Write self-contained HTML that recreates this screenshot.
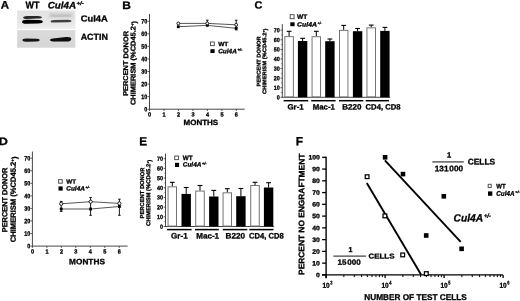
<!DOCTYPE html>
<html><head><meta charset="utf-8"><style>
html,body{margin:0;padding:0;background:#fff;width:520px;height:301px;overflow:hidden}
svg{display:block;font-family:"Liberation Sans", sans-serif;filter:grayscale(1) blur(0.3px)}
text{stroke:#000;stroke-width:0.3px;text-rendering:geometricPrecision}
</style></head><body>
<svg width="520" height="301" viewBox="0 0 520 301">
<rect width="520" height="301" fill="#fff"/>
<text x="0" y="0" font-size="10.84" font-weight="bold" fill="#000" transform="translate(0.77 8.50) rotate(0.05) scale(1.057 1)">A</text>
<text x="25.50" y="8.30" font-size="9.47" font-weight="bold" textLength="13.90" lengthAdjust="spacingAndGlyphs" fill="#000" transform="rotate(0.05 25.50 8.30)">WT</text>
<text x="47.70" y="8.40" font-size="9.60" font-weight="bold" font-style="italic" textLength="28.30" lengthAdjust="spacingAndGlyphs" fill="#000" transform="rotate(0.05 47.70 8.40)">Cul4A</text>
<text x="76.50" y="4.90" font-size="5.33" font-weight="bold" font-style="italic" textLength="7.30" lengthAdjust="spacingAndGlyphs" fill="#000" transform="rotate(0.05 76.50 4.90)">+/-</text>
<defs><filter id="b1" x="-30%" y="-100%" width="160%" height="300%"><feGaussianBlur stdDeviation="0.75"/></filter><filter id="b2" x="-30%" y="-100%" width="160%" height="300%"><feGaussianBlur stdDeviation="1.1"/></filter><linearGradient id="gt" x1="0" y1="0" x2="0" y2="1"><stop offset="0" stop-color="#e3e3e3"/><stop offset="0.6" stop-color="#e6e6e6"/><stop offset="1" stop-color="#eeeeee"/></linearGradient><linearGradient id="gb" x1="0" y1="0" x2="0" y2="1"><stop offset="0" stop-color="#dadada"/><stop offset="1" stop-color="#d6d6d6"/></linearGradient></defs>
<rect x="17.10" y="10.50" width="58.30" height="18.40" fill="url(#gt)" stroke="none" stroke-width="0"/>
<rect x="17.10" y="30.10" width="58.30" height="17.60" fill="url(#gb)" stroke="none" stroke-width="0"/>
<g filter="url(#b2)"><rect x="49" y="13" width="24" height="4.5" fill="#cdcdcd"/></g>
<g filter="url(#b1)">
<path d="M23.2 17.5 Q23.2 15.9 27 15.9 L38 16.1 Q41.8 16.4 41.8 17.4 Q41.8 18.5 38 18.6 L27 19.0 Q23.2 19.1 23.2 17.5Z" fill="#2a2a2a"/>
<path d="M22.0 21.9 Q22.0 19.8 27 19.7 L39 19.9 Q42.8 20.1 42.8 21.7 Q42.8 23.3 38 23.4 L27 23.7 Q22.0 23.9 22.0 21.9Z" fill="#060606"/>
<path d="M50.6 15.8 Q50.6 14.7 54 14.7 L68 14.6 Q71.2 14.8 71.2 15.7 Q71.2 16.8 68 16.8 L54 16.9 Q50.6 16.9 50.6 15.8Z" fill="#c2c2c2"/>
<path d="M50.6 21.4 Q50.6 20.1 54 20.0 L68 19.8 Q71.5 20.0 71.5 21.1 Q71.5 22.3 68 22.3 L54 22.6 Q50.6 22.7 50.6 21.4Z" fill="#404040"/>
<path d="M22.5 40.1 Q22.5 38.5 26 38.5 L37 38.7 Q39.8 38.9 39.8 40.1 Q39.8 41.5 37 41.6 L26 41.8 Q22.5 41.8 22.5 40.1Z" fill="#121212"/>
<path d="M50.0 40.0 Q50.0 38.7 53 38.5 L66 37.0 Q71.3 36.6 71.3 39.0 Q71.3 41.5 66 41.6 L53 41.5 Q50.0 41.4 50.0 40.0Z" fill="#0a0a0a"/>
</g>
<text x="80.70" y="21.50" font-size="8.78" font-weight="bold" textLength="27.00" lengthAdjust="spacingAndGlyphs" fill="#000" transform="rotate(0.05 80.70 21.50)">Cul4A</text>
<text x="80.70" y="39.80" font-size="8.64" font-weight="bold" textLength="27.20" lengthAdjust="spacingAndGlyphs" fill="#000" transform="rotate(0.05 80.70 39.80)">ACTIN</text>
<text x="0" y="0" font-size="10.84" font-weight="bold" fill="#000" transform="translate(122.36 8.90) rotate(0.05) scale(1.103 1)">B</text>
<text x="128.10" y="95.80" font-size="7.00" font-weight="bold" textLength="64.80" lengthAdjust="spacingAndGlyphs" transform="rotate(-89.95 128.10 95.80)">PERCENT DONOR</text>
<text x="135.40" y="105.00" font-size="7.00" font-weight="bold" textLength="84.00" lengthAdjust="spacingAndGlyphs" transform="rotate(-89.95 135.40 105.00)">CHIMERISM (%CD45.2<tspan font-size="0.6em" dy="-0.35em">+</tspan><tspan dy="0.35em">)</tspan></text>
<line x1="149.50" y1="14.00" x2="149.50" y2="109.20" stroke="#333" stroke-width="0.9"/>
<line x1="149.10" y1="109.20" x2="244.70" y2="109.20" stroke="#333" stroke-width="0.9"/>
<line x1="147.50" y1="109.20" x2="149.50" y2="109.20" stroke="#333" stroke-width="0.8"/>
<text x="147.30" y="111.49" font-size="6.40" font-weight="bold" text-anchor="end" textLength="3.00" lengthAdjust="spacingAndGlyphs" transform="rotate(0.05 147.30 111.49)">0</text>
<line x1="147.50" y1="96.64" x2="149.50" y2="96.64" stroke="#333" stroke-width="0.8"/>
<text x="147.30" y="98.93" font-size="6.40" font-weight="bold" text-anchor="end" textLength="6.00" lengthAdjust="spacingAndGlyphs" transform="rotate(0.05 147.30 98.93)">10</text>
<line x1="147.50" y1="84.08" x2="149.50" y2="84.08" stroke="#333" stroke-width="0.8"/>
<text x="147.30" y="86.37" font-size="6.40" font-weight="bold" text-anchor="end" textLength="6.00" lengthAdjust="spacingAndGlyphs" transform="rotate(0.05 147.30 86.37)">20</text>
<line x1="147.50" y1="71.52" x2="149.50" y2="71.52" stroke="#333" stroke-width="0.8"/>
<text x="147.30" y="73.81" font-size="6.40" font-weight="bold" text-anchor="end" textLength="6.00" lengthAdjust="spacingAndGlyphs" transform="rotate(0.05 147.30 73.81)">30</text>
<line x1="147.50" y1="58.96" x2="149.50" y2="58.96" stroke="#333" stroke-width="0.8"/>
<text x="147.30" y="61.25" font-size="6.40" font-weight="bold" text-anchor="end" textLength="6.00" lengthAdjust="spacingAndGlyphs" transform="rotate(0.05 147.30 61.25)">40</text>
<line x1="147.50" y1="46.40" x2="149.50" y2="46.40" stroke="#333" stroke-width="0.8"/>
<text x="147.30" y="48.69" font-size="6.40" font-weight="bold" text-anchor="end" textLength="6.00" lengthAdjust="spacingAndGlyphs" transform="rotate(0.05 147.30 48.69)">50</text>
<line x1="147.50" y1="33.84" x2="149.50" y2="33.84" stroke="#333" stroke-width="0.8"/>
<text x="147.30" y="36.13" font-size="6.40" font-weight="bold" text-anchor="end" textLength="6.00" lengthAdjust="spacingAndGlyphs" transform="rotate(0.05 147.30 36.13)">60</text>
<line x1="147.50" y1="21.28" x2="149.50" y2="21.28" stroke="#333" stroke-width="0.8"/>
<text x="147.30" y="23.57" font-size="6.40" font-weight="bold" text-anchor="end" textLength="6.00" lengthAdjust="spacingAndGlyphs" transform="rotate(0.05 147.30 23.57)">70</text>
<line x1="149.50" y1="109.20" x2="149.50" y2="111.00" stroke="#333" stroke-width="0.8"/>
<text x="149.60" y="116.50" font-size="6.00" font-weight="bold" text-anchor="middle" textLength="3.10" lengthAdjust="spacingAndGlyphs" transform="rotate(0.05 149.60 116.50)">0</text>
<line x1="163.97" y1="109.20" x2="163.97" y2="111.00" stroke="#333" stroke-width="0.8"/>
<text x="164.07" y="116.50" font-size="6.00" font-weight="bold" text-anchor="middle" textLength="3.10" lengthAdjust="spacingAndGlyphs" transform="rotate(0.05 164.07 116.50)">1</text>
<line x1="178.44" y1="109.20" x2="178.44" y2="111.00" stroke="#333" stroke-width="0.8"/>
<text x="178.54" y="116.50" font-size="6.00" font-weight="bold" text-anchor="middle" textLength="3.10" lengthAdjust="spacingAndGlyphs" transform="rotate(0.05 178.54 116.50)">2</text>
<line x1="192.91" y1="109.20" x2="192.91" y2="111.00" stroke="#333" stroke-width="0.8"/>
<text x="193.01" y="116.50" font-size="6.00" font-weight="bold" text-anchor="middle" textLength="3.10" lengthAdjust="spacingAndGlyphs" transform="rotate(0.05 193.01 116.50)">3</text>
<line x1="207.38" y1="109.20" x2="207.38" y2="111.00" stroke="#333" stroke-width="0.8"/>
<text x="207.48" y="116.50" font-size="6.00" font-weight="bold" text-anchor="middle" textLength="3.10" lengthAdjust="spacingAndGlyphs" transform="rotate(0.05 207.48 116.50)">4</text>
<line x1="221.85" y1="109.20" x2="221.85" y2="111.00" stroke="#333" stroke-width="0.8"/>
<text x="221.95" y="116.50" font-size="6.00" font-weight="bold" text-anchor="middle" textLength="3.10" lengthAdjust="spacingAndGlyphs" transform="rotate(0.05 221.95 116.50)">5</text>
<line x1="236.32" y1="109.20" x2="236.32" y2="111.00" stroke="#333" stroke-width="0.8"/>
<text x="236.42" y="116.50" font-size="6.00" font-weight="bold" text-anchor="middle" textLength="3.10" lengthAdjust="spacingAndGlyphs" transform="rotate(0.05 236.42 116.50)">6</text>
<text x="183.50" y="124.90" font-size="7.54" font-weight="bold" textLength="34.70" lengthAdjust="spacingAndGlyphs" fill="#000" transform="rotate(0.05 183.50 124.90)">MONTHS</text>
<line x1="207.30" y1="20.20" x2="207.30" y2="23.40" stroke="#000" stroke-width="0.9"/>
<line x1="206.00" y1="20.20" x2="208.60" y2="20.20" stroke="#000" stroke-width="0.9"/>
<line x1="236.20" y1="20.20" x2="236.20" y2="29.90" stroke="#000" stroke-width="0.9"/>
<line x1="234.90" y1="20.20" x2="237.50" y2="20.20" stroke="#000" stroke-width="0.9"/>
<line x1="234.90" y1="29.90" x2="237.50" y2="29.90" stroke="#000" stroke-width="0.9"/>
<polyline points="178.3,23.4 207.3,23.4 236.2,24.8" fill="none" stroke="#444" stroke-width="0.9"/>
<polyline points="178.3,26.7 207.3,25.4 236.2,28.3" fill="none" stroke="#444" stroke-width="0.9"/>
<rect x="176.90" y="25.30" width="2.80" height="2.80" fill="#000" stroke="none" stroke-width="0"/>
<rect x="205.90" y="24.00" width="2.80" height="2.80" fill="#000" stroke="none" stroke-width="0"/>
<rect x="234.80" y="26.90" width="2.80" height="2.80" fill="#000" stroke="none" stroke-width="0"/>
<circle cx="178.3" cy="23.4" r="1.45" fill="#fff" stroke="#000" stroke-width="0.85"/>
<circle cx="207.3" cy="23.4" r="1.45" fill="#fff" stroke="#000" stroke-width="0.85"/>
<circle cx="236.2" cy="24.8" r="1.45" fill="#fff" stroke="#000" stroke-width="0.85"/>
<rect x="210.50" y="42.00" width="3.80" height="3.60" fill="#fff" stroke="#555" stroke-width="1.0"/>
<rect x="210.40" y="49.20" width="4.20" height="3.80" fill="#000" stroke="none" stroke-width="0"/>
<text x="218.20" y="46.10" font-size="5.90" font-weight="bold" textLength="10.20" lengthAdjust="spacingAndGlyphs" fill="#000" transform="rotate(0.05 218.20 46.10)">WT</text>
<text x="218.20" y="53.30" font-size="6.31" font-weight="bold" font-style="italic" textLength="18.60" lengthAdjust="spacingAndGlyphs" fill="#000" transform="rotate(0.05 218.20 53.30)">Cul4A</text>
<text x="237.40" y="51.10" font-size="3.83" font-weight="bold" font-style="italic" textLength="4.90" lengthAdjust="spacingAndGlyphs" fill="#000" transform="rotate(0.05 237.40 51.10)">+/-</text>
<text x="0" y="0" font-size="10.84" font-weight="bold" fill="#000" transform="translate(-1.29 145.10) rotate(0.05) scale(1.170 1)">D</text>
<text x="7.30" y="232.20" font-size="7.41" font-weight="bold" textLength="64.60" lengthAdjust="spacingAndGlyphs" transform="rotate(-89.95 7.30 232.20)">PERCENT DONOR</text>
<text x="15.80" y="242.20" font-size="7.54" font-weight="bold" textLength="85.70" lengthAdjust="spacingAndGlyphs" transform="rotate(-89.95 15.80 242.20)">CHIMERISM (%CD45.2<tspan font-size="0.6em" dy="-0.35em">+</tspan><tspan dy="0.35em">)</tspan></text>
<line x1="32.40" y1="151.50" x2="32.40" y2="246.10" stroke="#333" stroke-width="0.9"/>
<line x1="32.00" y1="246.10" x2="127.60" y2="246.10" stroke="#333" stroke-width="0.9"/>
<line x1="30.40" y1="246.10" x2="32.40" y2="246.10" stroke="#333" stroke-width="0.8"/>
<text x="30.20" y="248.39" font-size="6.40" font-weight="bold" text-anchor="end" textLength="3.00" lengthAdjust="spacingAndGlyphs" transform="rotate(0.05 30.20 248.39)">0</text>
<line x1="30.40" y1="233.54" x2="32.40" y2="233.54" stroke="#333" stroke-width="0.8"/>
<text x="30.20" y="235.83" font-size="6.40" font-weight="bold" text-anchor="end" textLength="6.00" lengthAdjust="spacingAndGlyphs" transform="rotate(0.05 30.20 235.83)">10</text>
<line x1="30.40" y1="220.98" x2="32.40" y2="220.98" stroke="#333" stroke-width="0.8"/>
<text x="30.20" y="223.27" font-size="6.40" font-weight="bold" text-anchor="end" textLength="6.00" lengthAdjust="spacingAndGlyphs" transform="rotate(0.05 30.20 223.27)">20</text>
<line x1="30.40" y1="208.42" x2="32.40" y2="208.42" stroke="#333" stroke-width="0.8"/>
<text x="30.20" y="210.71" font-size="6.40" font-weight="bold" text-anchor="end" textLength="6.00" lengthAdjust="spacingAndGlyphs" transform="rotate(0.05 30.20 210.71)">30</text>
<line x1="30.40" y1="195.86" x2="32.40" y2="195.86" stroke="#333" stroke-width="0.8"/>
<text x="30.20" y="198.15" font-size="6.40" font-weight="bold" text-anchor="end" textLength="6.00" lengthAdjust="spacingAndGlyphs" transform="rotate(0.05 30.20 198.15)">40</text>
<line x1="30.40" y1="183.30" x2="32.40" y2="183.30" stroke="#333" stroke-width="0.8"/>
<text x="30.20" y="185.59" font-size="6.40" font-weight="bold" text-anchor="end" textLength="6.00" lengthAdjust="spacingAndGlyphs" transform="rotate(0.05 30.20 185.59)">50</text>
<line x1="30.40" y1="170.74" x2="32.40" y2="170.74" stroke="#333" stroke-width="0.8"/>
<text x="30.20" y="173.03" font-size="6.40" font-weight="bold" text-anchor="end" textLength="6.00" lengthAdjust="spacingAndGlyphs" transform="rotate(0.05 30.20 173.03)">60</text>
<line x1="30.40" y1="158.18" x2="32.40" y2="158.18" stroke="#333" stroke-width="0.8"/>
<text x="30.20" y="160.47" font-size="6.40" font-weight="bold" text-anchor="end" textLength="6.00" lengthAdjust="spacingAndGlyphs" transform="rotate(0.05 30.20 160.47)">70</text>
<line x1="32.40" y1="246.10" x2="32.40" y2="247.90" stroke="#333" stroke-width="0.8"/>
<text x="32.50" y="253.40" font-size="6.00" font-weight="bold" text-anchor="middle" textLength="3.10" lengthAdjust="spacingAndGlyphs" transform="rotate(0.05 32.50 253.40)">0</text>
<line x1="46.87" y1="246.10" x2="46.87" y2="247.90" stroke="#333" stroke-width="0.8"/>
<text x="46.97" y="253.40" font-size="6.00" font-weight="bold" text-anchor="middle" textLength="3.10" lengthAdjust="spacingAndGlyphs" transform="rotate(0.05 46.97 253.40)">1</text>
<line x1="61.34" y1="246.10" x2="61.34" y2="247.90" stroke="#333" stroke-width="0.8"/>
<text x="61.44" y="253.40" font-size="6.00" font-weight="bold" text-anchor="middle" textLength="3.10" lengthAdjust="spacingAndGlyphs" transform="rotate(0.05 61.44 253.40)">2</text>
<line x1="75.81" y1="246.10" x2="75.81" y2="247.90" stroke="#333" stroke-width="0.8"/>
<text x="75.91" y="253.40" font-size="6.00" font-weight="bold" text-anchor="middle" textLength="3.10" lengthAdjust="spacingAndGlyphs" transform="rotate(0.05 75.91 253.40)">3</text>
<line x1="90.28" y1="246.10" x2="90.28" y2="247.90" stroke="#333" stroke-width="0.8"/>
<text x="90.38" y="253.40" font-size="6.00" font-weight="bold" text-anchor="middle" textLength="3.10" lengthAdjust="spacingAndGlyphs" transform="rotate(0.05 90.38 253.40)">4</text>
<line x1="104.75" y1="246.10" x2="104.75" y2="247.90" stroke="#333" stroke-width="0.8"/>
<text x="104.85" y="253.40" font-size="6.00" font-weight="bold" text-anchor="middle" textLength="3.10" lengthAdjust="spacingAndGlyphs" transform="rotate(0.05 104.85 253.40)">5</text>
<line x1="119.22" y1="246.10" x2="119.22" y2="247.90" stroke="#333" stroke-width="0.8"/>
<text x="119.32" y="253.40" font-size="6.00" font-weight="bold" text-anchor="middle" textLength="3.10" lengthAdjust="spacingAndGlyphs" transform="rotate(0.05 119.32 253.40)">6</text>
<text x="69.10" y="264.20" font-size="7.82" font-weight="bold" textLength="35.80" lengthAdjust="spacingAndGlyphs" fill="#000" transform="rotate(0.05 69.10 264.20)">MONTHS</text>
<line x1="61.20" y1="201.40" x2="61.20" y2="211.40" stroke="#000" stroke-width="0.9"/>
<line x1="59.90" y1="201.40" x2="62.50" y2="201.40" stroke="#000" stroke-width="0.9"/>
<line x1="59.90" y1="211.40" x2="62.50" y2="211.40" stroke="#000" stroke-width="0.9"/>
<line x1="90.60" y1="197.50" x2="90.60" y2="215.30" stroke="#000" stroke-width="0.9"/>
<line x1="89.30" y1="197.50" x2="91.90" y2="197.50" stroke="#000" stroke-width="0.9"/>
<line x1="89.30" y1="215.30" x2="91.90" y2="215.30" stroke="#000" stroke-width="0.9"/>
<line x1="119.40" y1="199.20" x2="119.40" y2="215.30" stroke="#000" stroke-width="0.9"/>
<line x1="118.10" y1="199.20" x2="120.70" y2="199.20" stroke="#000" stroke-width="0.9"/>
<line x1="118.10" y1="215.30" x2="120.70" y2="215.30" stroke="#000" stroke-width="0.9"/>
<polyline points="61.2,203.8 90.6,201.7 119.4,203.4" fill="none" stroke="#444" stroke-width="0.9"/>
<polyline points="61.2,209.0 90.6,209.0 119.4,206.5" fill="none" stroke="#444" stroke-width="0.9"/>
<rect x="59.80" y="207.60" width="2.80" height="2.80" fill="#000" stroke="none" stroke-width="0"/>
<rect x="89.20" y="207.60" width="2.80" height="2.80" fill="#000" stroke="none" stroke-width="0"/>
<rect x="118.00" y="205.10" width="2.80" height="2.80" fill="#000" stroke="none" stroke-width="0"/>
<circle cx="61.2" cy="203.8" r="1.6" fill="#fff" stroke="#000" stroke-width="0.85"/>
<circle cx="90.6" cy="201.7" r="1.6" fill="#fff" stroke="#000" stroke-width="0.85"/>
<circle cx="119.4" cy="203.4" r="1.6" fill="#fff" stroke="#000" stroke-width="0.85"/>
<rect x="58.60" y="179.60" width="3.60" height="3.60" fill="#fff" stroke="#555" stroke-width="1.0"/>
<rect x="58.50" y="186.40" width="4.20" height="4.20" fill="#000" stroke="none" stroke-width="0"/>
<text x="66.30" y="183.40" font-size="5.90" font-weight="bold" textLength="9.80" lengthAdjust="spacingAndGlyphs" fill="#000" transform="rotate(0.05 66.30 183.40)">WT</text>
<text x="66.30" y="190.50" font-size="6.31" font-weight="bold" font-style="italic" textLength="18.60" lengthAdjust="spacingAndGlyphs" fill="#000" transform="rotate(0.05 66.30 190.50)">Cul4A</text>
<text x="85.50" y="188.50" font-size="3.67" font-weight="bold" font-style="italic" textLength="4.00" lengthAdjust="spacingAndGlyphs" fill="#000" transform="rotate(0.05 85.50 188.50)">+/-</text>
<text x="0" y="0" font-size="10.43" font-weight="bold" fill="#000" transform="translate(254.50 8.50) rotate(0.05) scale(1.041 1)">C</text>
<line x1="282.30" y1="24.20" x2="282.30" y2="97.30" stroke="#333" stroke-width="0.9"/>
<line x1="281.90" y1="97.30" x2="390.20" y2="97.30" stroke="#333" stroke-width="0.9"/>
<line x1="280.50" y1="97.30" x2="282.30" y2="97.30" stroke="#333" stroke-width="0.8"/>
<text x="279.80" y="99.45" font-size="6.00" font-weight="bold" text-anchor="end" textLength="3.00" lengthAdjust="spacingAndGlyphs" transform="rotate(0.05 279.80 99.45)">0</text>
<line x1="280.50" y1="87.71" x2="282.30" y2="87.71" stroke="#333" stroke-width="0.8"/>
<text x="279.80" y="89.86" font-size="6.00" font-weight="bold" text-anchor="end" textLength="6.00" lengthAdjust="spacingAndGlyphs" transform="rotate(0.05 279.80 89.86)">10</text>
<line x1="280.50" y1="78.13" x2="282.30" y2="78.13" stroke="#333" stroke-width="0.8"/>
<text x="279.80" y="80.28" font-size="6.00" font-weight="bold" text-anchor="end" textLength="6.00" lengthAdjust="spacingAndGlyphs" transform="rotate(0.05 279.80 80.28)">20</text>
<line x1="280.50" y1="68.54" x2="282.30" y2="68.54" stroke="#333" stroke-width="0.8"/>
<text x="279.80" y="70.69" font-size="6.00" font-weight="bold" text-anchor="end" textLength="6.00" lengthAdjust="spacingAndGlyphs" transform="rotate(0.05 279.80 70.69)">30</text>
<line x1="280.50" y1="58.96" x2="282.30" y2="58.96" stroke="#333" stroke-width="0.8"/>
<text x="279.80" y="61.11" font-size="6.00" font-weight="bold" text-anchor="end" textLength="6.00" lengthAdjust="spacingAndGlyphs" transform="rotate(0.05 279.80 61.11)">40</text>
<line x1="280.50" y1="49.37" x2="282.30" y2="49.37" stroke="#333" stroke-width="0.8"/>
<text x="279.80" y="51.52" font-size="6.00" font-weight="bold" text-anchor="end" textLength="6.00" lengthAdjust="spacingAndGlyphs" transform="rotate(0.05 279.80 51.52)">50</text>
<line x1="280.50" y1="39.79" x2="282.30" y2="39.79" stroke="#333" stroke-width="0.8"/>
<text x="279.80" y="41.93" font-size="6.00" font-weight="bold" text-anchor="end" textLength="6.00" lengthAdjust="spacingAndGlyphs" transform="rotate(0.05 279.80 41.93)">60</text>
<line x1="280.50" y1="30.20" x2="282.30" y2="30.20" stroke="#333" stroke-width="0.8"/>
<text x="279.80" y="32.35" font-size="6.00" font-weight="bold" text-anchor="end" textLength="6.00" lengthAdjust="spacingAndGlyphs" transform="rotate(0.05 279.80 32.35)">70</text>
<line x1="281.22" y1="92.51" x2="282.30" y2="92.51" stroke="#333" stroke-width="0.6400000000000001"/>
<line x1="281.22" y1="82.92" x2="282.30" y2="82.92" stroke="#333" stroke-width="0.6400000000000001"/>
<line x1="281.22" y1="73.34" x2="282.30" y2="73.34" stroke="#333" stroke-width="0.6400000000000001"/>
<line x1="281.22" y1="63.75" x2="282.30" y2="63.75" stroke="#333" stroke-width="0.6400000000000001"/>
<line x1="281.22" y1="54.16" x2="282.30" y2="54.16" stroke="#333" stroke-width="0.6400000000000001"/>
<line x1="281.22" y1="44.58" x2="282.30" y2="44.58" stroke="#333" stroke-width="0.6400000000000001"/>
<line x1="281.22" y1="34.99" x2="282.30" y2="34.99" stroke="#333" stroke-width="0.6400000000000001"/>
<line x1="289.10" y1="36.20" x2="289.10" y2="31.30" stroke="#000" stroke-width="1.0"/>
<line x1="286.70" y1="31.30" x2="291.50" y2="31.30" stroke="#000" stroke-width="1.1"/>
<rect x="284.85" y="36.65" width="8.50" height="60.20" fill="#fff" stroke="#666" stroke-width="0.9"/>
<line x1="302.60" y1="41.00" x2="302.60" y2="38.30" stroke="#000" stroke-width="1.0"/>
<line x1="300.20" y1="38.30" x2="305.00" y2="38.30" stroke="#000" stroke-width="1.1"/>
<rect x="297.90" y="41.00" width="9.40" height="56.30" fill="#000" stroke="none" stroke-width="0"/>
<line x1="316.30" y1="36.30" x2="316.30" y2="31.30" stroke="#000" stroke-width="1.0"/>
<line x1="313.90" y1="31.30" x2="318.70" y2="31.30" stroke="#000" stroke-width="1.1"/>
<rect x="312.05" y="36.75" width="8.50" height="60.10" fill="#fff" stroke="#666" stroke-width="0.9"/>
<line x1="329.90" y1="41.20" x2="329.90" y2="39.00" stroke="#000" stroke-width="1.0"/>
<line x1="327.50" y1="39.00" x2="332.30" y2="39.00" stroke="#000" stroke-width="1.1"/>
<rect x="325.20" y="41.20" width="9.40" height="56.10" fill="#000" stroke="none" stroke-width="0"/>
<line x1="343.70" y1="29.90" x2="343.70" y2="25.40" stroke="#000" stroke-width="1.0"/>
<line x1="341.30" y1="25.40" x2="346.10" y2="25.40" stroke="#000" stroke-width="1.1"/>
<rect x="339.45" y="30.35" width="8.50" height="66.50" fill="#fff" stroke="#666" stroke-width="0.9"/>
<line x1="357.60" y1="31.20" x2="357.60" y2="28.50" stroke="#000" stroke-width="1.0"/>
<line x1="355.20" y1="28.50" x2="360.00" y2="28.50" stroke="#000" stroke-width="1.1"/>
<rect x="352.90" y="31.20" width="9.40" height="66.10" fill="#000" stroke="none" stroke-width="0"/>
<line x1="371.20" y1="27.40" x2="371.20" y2="25.10" stroke="#000" stroke-width="1.0"/>
<line x1="368.80" y1="25.10" x2="373.60" y2="25.10" stroke="#000" stroke-width="1.1"/>
<rect x="366.95" y="27.85" width="8.50" height="69.00" fill="#fff" stroke="#666" stroke-width="0.9"/>
<line x1="384.90" y1="30.90" x2="384.90" y2="27.40" stroke="#000" stroke-width="1.0"/>
<line x1="382.50" y1="27.40" x2="387.30" y2="27.40" stroke="#000" stroke-width="1.1"/>
<rect x="380.20" y="30.90" width="9.40" height="66.40" fill="#000" stroke="none" stroke-width="0"/>
<line x1="283.60" y1="100.70" x2="308.20" y2="100.70" stroke="#000" stroke-width="1.5"/>
<line x1="311.20" y1="100.70" x2="335.60" y2="100.70" stroke="#000" stroke-width="1.5"/>
<line x1="339.00" y1="100.70" x2="363.30" y2="100.70" stroke="#000" stroke-width="1.5"/>
<line x1="365.70" y1="100.70" x2="389.00" y2="100.70" stroke="#000" stroke-width="1.5"/>
<text x="287.50" y="109.40" font-size="7.82" font-weight="bold" textLength="16.20" lengthAdjust="spacingAndGlyphs" fill="#000" transform="rotate(0.05 287.50 109.40)">Gr-1</text>
<text x="312.70" y="109.40" font-size="7.82" font-weight="bold" textLength="22.20" lengthAdjust="spacingAndGlyphs" fill="#000" transform="rotate(0.05 312.70 109.40)">Mac-1</text>
<text x="342.20" y="109.40" font-size="7.82" font-weight="bold" textLength="19.20" lengthAdjust="spacingAndGlyphs" fill="#000" transform="rotate(0.05 342.20 109.40)">B220</text>
<text x="365.60" y="109.40" font-size="7.82" font-weight="bold" textLength="34.90" lengthAdjust="spacingAndGlyphs" fill="#000" transform="rotate(0.05 365.60 109.40)">CD4, CD8</text>
<rect x="290.20" y="14.70" width="3.90" height="4.00" fill="#fff" stroke="#555" stroke-width="1.0"/>
<rect x="290.30" y="22.30" width="4.30" height="3.90" fill="#000" stroke="none" stroke-width="0"/>
<text x="297.10" y="18.80" font-size="6.31" font-weight="bold" textLength="10.20" lengthAdjust="spacingAndGlyphs" fill="#000" transform="rotate(0.05 297.10 18.80)">WT</text>
<text x="297.10" y="26.40" font-size="6.17" font-weight="bold" font-style="italic" textLength="19.80" lengthAdjust="spacingAndGlyphs" fill="#000" transform="rotate(0.05 297.10 26.40)">Cul4A</text>
<text x="317.40" y="24.30" font-size="3.50" font-weight="bold" font-style="italic" textLength="4.10" lengthAdjust="spacingAndGlyphs" fill="#000" transform="rotate(0.05 317.40 24.30)">+/-</text>
<text x="260.40" y="86.60" font-size="5.35" font-weight="bold" textLength="50.30" lengthAdjust="spacingAndGlyphs" transform="rotate(-89.95 260.40 86.60)">PERCENT DONOR</text>
<text x="266.20" y="94.10" font-size="5.35" font-weight="bold" textLength="65.50" lengthAdjust="spacingAndGlyphs" transform="rotate(-89.95 266.20 94.10)">CHIMERISM (%CD45.2<tspan font-size="0.6em" dy="-0.35em">+</tspan><tspan dy="0.35em">)</tspan></text>
<text x="0" y="0" font-size="11.52" font-weight="bold" fill="#000" transform="translate(139.27 145.20) rotate(0.05) scale(1.019 1)">E</text>
<line x1="165.50" y1="153.50" x2="165.50" y2="226.50" stroke="#333" stroke-width="0.9"/>
<line x1="165.10" y1="226.50" x2="274.20" y2="226.50" stroke="#333" stroke-width="0.9"/>
<line x1="163.70" y1="226.50" x2="165.50" y2="226.50" stroke="#333" stroke-width="0.8"/>
<text x="163.00" y="228.65" font-size="6.00" font-weight="bold" text-anchor="end" textLength="3.00" lengthAdjust="spacingAndGlyphs" transform="rotate(0.05 163.00 228.65)">0</text>
<line x1="163.70" y1="216.81" x2="165.50" y2="216.81" stroke="#333" stroke-width="0.8"/>
<text x="163.00" y="218.96" font-size="6.00" font-weight="bold" text-anchor="end" textLength="6.00" lengthAdjust="spacingAndGlyphs" transform="rotate(0.05 163.00 218.96)">10</text>
<line x1="163.70" y1="207.13" x2="165.50" y2="207.13" stroke="#333" stroke-width="0.8"/>
<text x="163.00" y="209.28" font-size="6.00" font-weight="bold" text-anchor="end" textLength="6.00" lengthAdjust="spacingAndGlyphs" transform="rotate(0.05 163.00 209.28)">20</text>
<line x1="163.70" y1="197.44" x2="165.50" y2="197.44" stroke="#333" stroke-width="0.8"/>
<text x="163.00" y="199.59" font-size="6.00" font-weight="bold" text-anchor="end" textLength="6.00" lengthAdjust="spacingAndGlyphs" transform="rotate(0.05 163.00 199.59)">30</text>
<line x1="163.70" y1="187.76" x2="165.50" y2="187.76" stroke="#333" stroke-width="0.8"/>
<text x="163.00" y="189.91" font-size="6.00" font-weight="bold" text-anchor="end" textLength="6.00" lengthAdjust="spacingAndGlyphs" transform="rotate(0.05 163.00 189.91)">40</text>
<line x1="163.70" y1="178.07" x2="165.50" y2="178.07" stroke="#333" stroke-width="0.8"/>
<text x="163.00" y="180.22" font-size="6.00" font-weight="bold" text-anchor="end" textLength="6.00" lengthAdjust="spacingAndGlyphs" transform="rotate(0.05 163.00 180.22)">50</text>
<line x1="163.70" y1="168.39" x2="165.50" y2="168.39" stroke="#333" stroke-width="0.8"/>
<text x="163.00" y="170.53" font-size="6.00" font-weight="bold" text-anchor="end" textLength="6.00" lengthAdjust="spacingAndGlyphs" transform="rotate(0.05 163.00 170.53)">60</text>
<line x1="163.70" y1="158.70" x2="165.50" y2="158.70" stroke="#333" stroke-width="0.8"/>
<text x="163.00" y="160.85" font-size="6.00" font-weight="bold" text-anchor="end" textLength="6.00" lengthAdjust="spacingAndGlyphs" transform="rotate(0.05 163.00 160.85)">70</text>
<line x1="164.42" y1="221.66" x2="165.50" y2="221.66" stroke="#333" stroke-width="0.6400000000000001"/>
<line x1="164.42" y1="211.97" x2="165.50" y2="211.97" stroke="#333" stroke-width="0.6400000000000001"/>
<line x1="164.42" y1="202.29" x2="165.50" y2="202.29" stroke="#333" stroke-width="0.6400000000000001"/>
<line x1="164.42" y1="192.60" x2="165.50" y2="192.60" stroke="#333" stroke-width="0.6400000000000001"/>
<line x1="164.42" y1="182.91" x2="165.50" y2="182.91" stroke="#333" stroke-width="0.6400000000000001"/>
<line x1="164.42" y1="173.23" x2="165.50" y2="173.23" stroke="#333" stroke-width="0.6400000000000001"/>
<line x1="164.42" y1="163.54" x2="165.50" y2="163.54" stroke="#333" stroke-width="0.6400000000000001"/>
<line x1="172.30" y1="186.40" x2="172.30" y2="182.30" stroke="#000" stroke-width="1.0"/>
<line x1="169.90" y1="182.30" x2="174.70" y2="182.30" stroke="#000" stroke-width="1.1"/>
<rect x="168.05" y="186.85" width="8.50" height="39.20" fill="#fff" stroke="#666" stroke-width="0.9"/>
<line x1="186.20" y1="193.90" x2="186.20" y2="187.50" stroke="#000" stroke-width="1.0"/>
<line x1="183.80" y1="187.50" x2="188.60" y2="187.50" stroke="#000" stroke-width="1.1"/>
<rect x="181.50" y="193.90" width="9.40" height="32.60" fill="#000" stroke="none" stroke-width="0"/>
<line x1="200.00" y1="190.60" x2="200.00" y2="185.50" stroke="#000" stroke-width="1.0"/>
<line x1="197.60" y1="185.50" x2="202.40" y2="185.50" stroke="#000" stroke-width="1.1"/>
<rect x="195.75" y="191.05" width="8.50" height="35.00" fill="#fff" stroke="#666" stroke-width="0.9"/>
<line x1="213.80" y1="196.50" x2="213.80" y2="190.40" stroke="#000" stroke-width="1.0"/>
<line x1="211.40" y1="190.40" x2="216.20" y2="190.40" stroke="#000" stroke-width="1.1"/>
<rect x="209.10" y="196.50" width="9.40" height="30.00" fill="#000" stroke="none" stroke-width="0"/>
<line x1="227.30" y1="192.40" x2="227.30" y2="188.70" stroke="#000" stroke-width="1.0"/>
<line x1="224.90" y1="188.70" x2="229.70" y2="188.70" stroke="#000" stroke-width="1.1"/>
<rect x="223.05" y="192.85" width="8.50" height="33.20" fill="#fff" stroke="#666" stroke-width="0.9"/>
<line x1="240.90" y1="196.20" x2="240.90" y2="188.50" stroke="#000" stroke-width="1.0"/>
<line x1="238.50" y1="188.50" x2="243.30" y2="188.50" stroke="#000" stroke-width="1.1"/>
<rect x="236.20" y="196.20" width="9.40" height="30.30" fill="#000" stroke="none" stroke-width="0"/>
<line x1="255.00" y1="185.00" x2="255.00" y2="182.30" stroke="#000" stroke-width="1.0"/>
<line x1="252.60" y1="182.30" x2="257.40" y2="182.30" stroke="#000" stroke-width="1.1"/>
<rect x="250.75" y="185.45" width="8.50" height="40.60" fill="#fff" stroke="#666" stroke-width="0.9"/>
<line x1="268.60" y1="187.50" x2="268.60" y2="182.70" stroke="#000" stroke-width="1.0"/>
<line x1="266.20" y1="182.70" x2="271.00" y2="182.70" stroke="#000" stroke-width="1.1"/>
<rect x="263.90" y="187.50" width="9.40" height="39.00" fill="#000" stroke="none" stroke-width="0"/>
<line x1="167.00" y1="229.60" x2="191.60" y2="229.60" stroke="#000" stroke-width="1.5"/>
<line x1="195.00" y1="229.60" x2="218.80" y2="229.60" stroke="#000" stroke-width="1.5"/>
<line x1="222.80" y1="229.60" x2="247.30" y2="229.60" stroke="#000" stroke-width="1.5"/>
<line x1="249.30" y1="229.60" x2="273.50" y2="229.60" stroke="#000" stroke-width="1.5"/>
<text x="171.10" y="238.60" font-size="7.96" font-weight="bold" textLength="16.50" lengthAdjust="spacingAndGlyphs" fill="#000" transform="rotate(0.05 171.10 238.60)">Gr-1</text>
<text x="196.30" y="238.60" font-size="7.96" font-weight="bold" textLength="22.80" lengthAdjust="spacingAndGlyphs" fill="#000" transform="rotate(0.05 196.30 238.60)">Mac-1</text>
<text x="225.60" y="238.60" font-size="7.96" font-weight="bold" textLength="19.50" lengthAdjust="spacingAndGlyphs" fill="#000" transform="rotate(0.05 225.60 238.60)">B220</text>
<text x="249.10" y="238.60" font-size="7.96" font-weight="bold" textLength="34.70" lengthAdjust="spacingAndGlyphs" fill="#000" transform="rotate(0.05 249.10 238.60)">CD4, CD8</text>
<rect x="174.70" y="156.00" width="3.90" height="3.60" fill="#fff" stroke="#555" stroke-width="1.0"/>
<rect x="175.00" y="162.80" width="4.10" height="4.20" fill="#000" stroke="none" stroke-width="0"/>
<text x="182.80" y="159.90" font-size="6.17" font-weight="bold" textLength="9.80" lengthAdjust="spacingAndGlyphs" fill="#000" transform="rotate(0.05 182.80 159.90)">WT</text>
<text x="182.80" y="166.50" font-size="6.31" font-weight="bold" font-style="italic" textLength="18.60" lengthAdjust="spacingAndGlyphs" fill="#000" transform="rotate(0.05 182.80 166.50)">Cul4A</text>
<text x="202.00" y="164.80" font-size="3.83" font-weight="bold" font-style="italic" textLength="4.40" lengthAdjust="spacingAndGlyphs" fill="#000" transform="rotate(0.05 202.00 164.80)">+/-</text>
<text x="144.10" y="218.40" font-size="5.76" font-weight="bold" textLength="50.90" lengthAdjust="spacingAndGlyphs" transform="rotate(-89.95 144.10 218.40)">PERCENT DONOR</text>
<text x="150.30" y="226.10" font-size="5.76" font-weight="bold" textLength="66.30" lengthAdjust="spacingAndGlyphs" transform="rotate(-89.95 150.30 226.10)">CHIMERISM (%CD45.2<tspan font-size="0.6em" dy="-0.35em">+</tspan><tspan dy="0.35em">)</tspan></text>
<text x="0" y="0" font-size="11.93" font-weight="bold" fill="#000" transform="translate(295.76 145.20) rotate(0.05) scale(1.004 1)">F</text>
<line x1="326.10" y1="156.70" x2="326.10" y2="278.30" stroke="#000" stroke-width="1.4"/>
<line x1="322.00" y1="274.90" x2="503.00" y2="274.90" stroke="#000" stroke-width="1.4"/>
<line x1="322.10" y1="274.90" x2="326.10" y2="274.90" stroke="#000" stroke-width="1.3"/>
<text x="319.90" y="277.19" font-size="6.40" font-weight="bold" text-anchor="end" textLength="3.80" lengthAdjust="spacingAndGlyphs" transform="rotate(0.05 319.90 277.19)">0</text>
<line x1="322.10" y1="263.14" x2="326.10" y2="263.14" stroke="#000" stroke-width="1.3"/>
<text x="319.90" y="265.43" font-size="6.40" font-weight="bold" text-anchor="end" textLength="7.60" lengthAdjust="spacingAndGlyphs" transform="rotate(0.05 319.90 265.43)">10</text>
<line x1="322.10" y1="251.38" x2="326.10" y2="251.38" stroke="#000" stroke-width="1.3"/>
<text x="319.90" y="253.67" font-size="6.40" font-weight="bold" text-anchor="end" textLength="7.60" lengthAdjust="spacingAndGlyphs" transform="rotate(0.05 319.90 253.67)">20</text>
<line x1="322.10" y1="239.62" x2="326.10" y2="239.62" stroke="#000" stroke-width="1.3"/>
<text x="319.90" y="241.91" font-size="6.40" font-weight="bold" text-anchor="end" textLength="7.60" lengthAdjust="spacingAndGlyphs" transform="rotate(0.05 319.90 241.91)">30</text>
<line x1="322.10" y1="227.86" x2="326.10" y2="227.86" stroke="#000" stroke-width="1.3"/>
<text x="319.90" y="230.15" font-size="6.40" font-weight="bold" text-anchor="end" textLength="7.60" lengthAdjust="spacingAndGlyphs" transform="rotate(0.05 319.90 230.15)">40</text>
<line x1="322.10" y1="216.10" x2="326.10" y2="216.10" stroke="#000" stroke-width="1.3"/>
<text x="319.90" y="218.39" font-size="6.40" font-weight="bold" text-anchor="end" textLength="7.60" lengthAdjust="spacingAndGlyphs" transform="rotate(0.05 319.90 218.39)">50</text>
<line x1="322.10" y1="204.34" x2="326.10" y2="204.34" stroke="#000" stroke-width="1.3"/>
<text x="319.90" y="206.63" font-size="6.40" font-weight="bold" text-anchor="end" textLength="7.60" lengthAdjust="spacingAndGlyphs" transform="rotate(0.05 319.90 206.63)">60</text>
<line x1="322.10" y1="192.58" x2="326.10" y2="192.58" stroke="#000" stroke-width="1.3"/>
<text x="319.90" y="194.87" font-size="6.40" font-weight="bold" text-anchor="end" textLength="7.60" lengthAdjust="spacingAndGlyphs" transform="rotate(0.05 319.90 194.87)">70</text>
<line x1="322.10" y1="180.82" x2="326.10" y2="180.82" stroke="#000" stroke-width="1.3"/>
<text x="319.90" y="183.11" font-size="6.40" font-weight="bold" text-anchor="end" textLength="7.60" lengthAdjust="spacingAndGlyphs" transform="rotate(0.05 319.90 183.11)">80</text>
<line x1="322.10" y1="169.06" x2="326.10" y2="169.06" stroke="#000" stroke-width="1.3"/>
<text x="319.90" y="171.35" font-size="6.40" font-weight="bold" text-anchor="end" textLength="7.60" lengthAdjust="spacingAndGlyphs" transform="rotate(0.05 319.90 171.35)">90</text>
<line x1="322.10" y1="157.30" x2="326.10" y2="157.30" stroke="#000" stroke-width="1.3"/>
<text x="319.90" y="159.59" font-size="6.40" font-weight="bold" text-anchor="end" textLength="11.40" lengthAdjust="spacingAndGlyphs" transform="rotate(0.05 319.90 159.59)">100</text>
<line x1="326.10" y1="274.90" x2="326.10" y2="278.10" stroke="#000" stroke-width="1.3"/>
<text x="322.40" y="287.70" font-size="7.12" font-weight="bold" textLength="7.20" lengthAdjust="spacingAndGlyphs" fill="#000" transform="rotate(0.05 322.40 287.70)">10</text>
<text x="330.20" y="284.60" font-size="5.31" font-weight="bold" textLength="2.20" lengthAdjust="spacingAndGlyphs" fill="#000" transform="rotate(0.05 330.20 284.60)">3</text>
<line x1="343.86" y1="274.90" x2="343.86" y2="277.10" stroke="#000" stroke-width="1.0"/>
<line x1="354.25" y1="274.90" x2="354.25" y2="277.10" stroke="#000" stroke-width="1.0"/>
<line x1="361.62" y1="274.90" x2="361.62" y2="277.10" stroke="#000" stroke-width="1.0"/>
<line x1="367.34" y1="274.90" x2="367.34" y2="277.10" stroke="#000" stroke-width="1.0"/>
<line x1="372.01" y1="274.90" x2="372.01" y2="277.10" stroke="#000" stroke-width="1.0"/>
<line x1="375.96" y1="274.90" x2="375.96" y2="277.10" stroke="#000" stroke-width="1.0"/>
<line x1="379.38" y1="274.90" x2="379.38" y2="277.10" stroke="#000" stroke-width="1.0"/>
<line x1="382.40" y1="274.90" x2="382.40" y2="277.10" stroke="#000" stroke-width="1.0"/>
<line x1="385.10" y1="274.90" x2="385.10" y2="278.10" stroke="#000" stroke-width="1.3"/>
<text x="381.40" y="287.70" font-size="7.12" font-weight="bold" textLength="7.20" lengthAdjust="spacingAndGlyphs" fill="#000" transform="rotate(0.05 381.40 287.70)">10</text>
<text x="389.20" y="284.60" font-size="5.31" font-weight="bold" textLength="2.20" lengthAdjust="spacingAndGlyphs" fill="#000" transform="rotate(0.05 389.20 284.60)">4</text>
<line x1="402.86" y1="274.90" x2="402.86" y2="277.10" stroke="#000" stroke-width="1.0"/>
<line x1="413.25" y1="274.90" x2="413.25" y2="277.10" stroke="#000" stroke-width="1.0"/>
<line x1="420.62" y1="274.90" x2="420.62" y2="277.10" stroke="#000" stroke-width="1.0"/>
<line x1="426.34" y1="274.90" x2="426.34" y2="277.10" stroke="#000" stroke-width="1.0"/>
<line x1="431.01" y1="274.90" x2="431.01" y2="277.10" stroke="#000" stroke-width="1.0"/>
<line x1="434.96" y1="274.90" x2="434.96" y2="277.10" stroke="#000" stroke-width="1.0"/>
<line x1="438.38" y1="274.90" x2="438.38" y2="277.10" stroke="#000" stroke-width="1.0"/>
<line x1="441.40" y1="274.90" x2="441.40" y2="277.10" stroke="#000" stroke-width="1.0"/>
<line x1="444.10" y1="274.90" x2="444.10" y2="278.10" stroke="#000" stroke-width="1.3"/>
<text x="440.40" y="287.70" font-size="7.12" font-weight="bold" textLength="7.20" lengthAdjust="spacingAndGlyphs" fill="#000" transform="rotate(0.05 440.40 287.70)">10</text>
<text x="448.20" y="284.60" font-size="5.31" font-weight="bold" textLength="2.20" lengthAdjust="spacingAndGlyphs" fill="#000" transform="rotate(0.05 448.20 284.60)">5</text>
<line x1="461.86" y1="274.90" x2="461.86" y2="277.10" stroke="#000" stroke-width="1.0"/>
<line x1="472.25" y1="274.90" x2="472.25" y2="277.10" stroke="#000" stroke-width="1.0"/>
<line x1="479.62" y1="274.90" x2="479.62" y2="277.10" stroke="#000" stroke-width="1.0"/>
<line x1="485.34" y1="274.90" x2="485.34" y2="277.10" stroke="#000" stroke-width="1.0"/>
<line x1="490.01" y1="274.90" x2="490.01" y2="277.10" stroke="#000" stroke-width="1.0"/>
<line x1="493.96" y1="274.90" x2="493.96" y2="277.10" stroke="#000" stroke-width="1.0"/>
<line x1="497.38" y1="274.90" x2="497.38" y2="277.10" stroke="#000" stroke-width="1.0"/>
<line x1="500.40" y1="274.90" x2="500.40" y2="277.10" stroke="#000" stroke-width="1.0"/>
<line x1="503.10" y1="274.90" x2="503.10" y2="278.10" stroke="#000" stroke-width="1.3"/>
<text x="499.40" y="287.70" font-size="7.12" font-weight="bold" textLength="7.20" lengthAdjust="spacingAndGlyphs" fill="#000" transform="rotate(0.05 499.40 287.70)">10</text>
<text x="507.20" y="284.60" font-size="5.31" font-weight="bold" textLength="2.20" lengthAdjust="spacingAndGlyphs" fill="#000" transform="rotate(0.05 507.20 284.60)">6</text>
<text x="364.30" y="300.00" font-size="8.37" font-weight="bold" textLength="102.40" lengthAdjust="spacingAndGlyphs" fill="#000" transform="rotate(0.05 364.30 300.00)">NUMBER OF TEST CELLS</text>
<text x="304.30" y="274.90" font-size="8.09" font-weight="bold" textLength="121.20" lengthAdjust="spacingAndGlyphs" transform="rotate(-89.95 304.30 274.90)">PERCENT NO ENGRAFTMENT</text>
<line x1="366.80" y1="183.00" x2="421.00" y2="274.50" stroke="#000" stroke-width="1.9"/>
<line x1="384.90" y1="160.40" x2="460.70" y2="241.80" stroke="#000" stroke-width="1.9"/>
<rect x="382.80" y="155.00" width="4.60" height="4.60" fill="#000" stroke="none" stroke-width="0"/>
<rect x="400.70" y="171.80" width="4.60" height="4.60" fill="#000" stroke="none" stroke-width="0"/>
<rect x="423.90" y="233.20" width="4.60" height="4.60" fill="#000" stroke="none" stroke-width="0"/>
<rect x="441.50" y="194.00" width="4.60" height="4.60" fill="#000" stroke="none" stroke-width="0"/>
<rect x="459.30" y="246.50" width="4.60" height="4.60" fill="#000" stroke="none" stroke-width="0"/>
<rect x="365.23" y="174.82" width="3.75" height="3.75" fill="#fff" stroke="#000" stroke-width="1.25"/>
<rect x="383.02" y="214.03" width="3.75" height="3.75" fill="#fff" stroke="#000" stroke-width="1.25"/>
<rect x="400.82" y="253.03" width="3.75" height="3.75" fill="#fff" stroke="#000" stroke-width="1.25"/>
<rect x="424.43" y="271.73" width="3.75" height="3.75" fill="#fff" stroke="#000" stroke-width="1.25"/>
<line x1="333.40" y1="256.10" x2="366.10" y2="256.10" stroke="#444" stroke-width="1.3"/>
<text x="348.50" y="252.00" font-size="7.12" font-weight="bold" fill="#000" transform="rotate(0.05 348.50 252.00)">1</text>
<text x="337.50" y="264.80" font-size="7.54" font-weight="bold" textLength="23.10" lengthAdjust="spacingAndGlyphs" fill="#000" transform="rotate(0.05 337.50 264.80)">15<tspan dx="0.8">000</tspan></text>
<text x="368.50" y="258.40" font-size="7.00" font-weight="bold" textLength="26.00" lengthAdjust="spacingAndGlyphs" fill="#000" transform="rotate(0.05 368.50 258.40)">CELLS</text>
<line x1="432.30" y1="161.90" x2="463.80" y2="161.90" stroke="#444" stroke-width="1.3"/>
<text x="446.90" y="157.50" font-size="7.54" font-weight="bold" fill="#000" transform="rotate(0.05 446.90 157.50)">1</text>
<text x="434.80" y="171.30" font-size="8.10" font-weight="bold" textLength="28.30" lengthAdjust="spacingAndGlyphs" fill="#000" transform="rotate(0.05 434.80 171.30)">131<tspan dx="0.8">000</tspan></text>
<text x="467.70" y="164.50" font-size="8.23" font-weight="bold" textLength="27.40" lengthAdjust="spacingAndGlyphs" fill="#000" transform="rotate(0.05 467.70 164.50)">CELLS</text>
<rect x="488.20" y="184.30" width="3.00" height="3.30" fill="#fff" stroke="#555" stroke-width="1.0"/>
<rect x="488.00" y="191.40" width="4.30" height="4.40" fill="#000" stroke="none" stroke-width="0"/>
<text x="496.30" y="188.30" font-size="6.17" font-weight="bold" textLength="9.40" lengthAdjust="spacingAndGlyphs" fill="#000" transform="rotate(0.05 496.30 188.30)">WT</text>
<text x="496.30" y="195.70" font-size="6.86" font-weight="bold" font-style="italic" textLength="18.20" lengthAdjust="spacingAndGlyphs" fill="#000" transform="rotate(0.05 496.30 195.70)">Cul4A</text>
<text x="515.10" y="192.90" font-size="3.33" font-weight="bold" font-style="italic" textLength="4.80" lengthAdjust="spacingAndGlyphs" fill="#000" transform="rotate(0.05 515.10 192.90)">+/-</text>
<text x="453.60" y="221.60" font-size="10.56" font-weight="bold" font-style="italic" textLength="29.60" lengthAdjust="spacingAndGlyphs" fill="#000" transform="rotate(0.05 453.60 221.60)">Cul4A</text>
<text x="484.00" y="217.80" font-size="6.00" font-weight="bold" font-style="italic" textLength="6.90" lengthAdjust="spacingAndGlyphs" fill="#000" transform="rotate(0.05 484.00 217.80)">+/-</text>
</svg>
</body></html>
